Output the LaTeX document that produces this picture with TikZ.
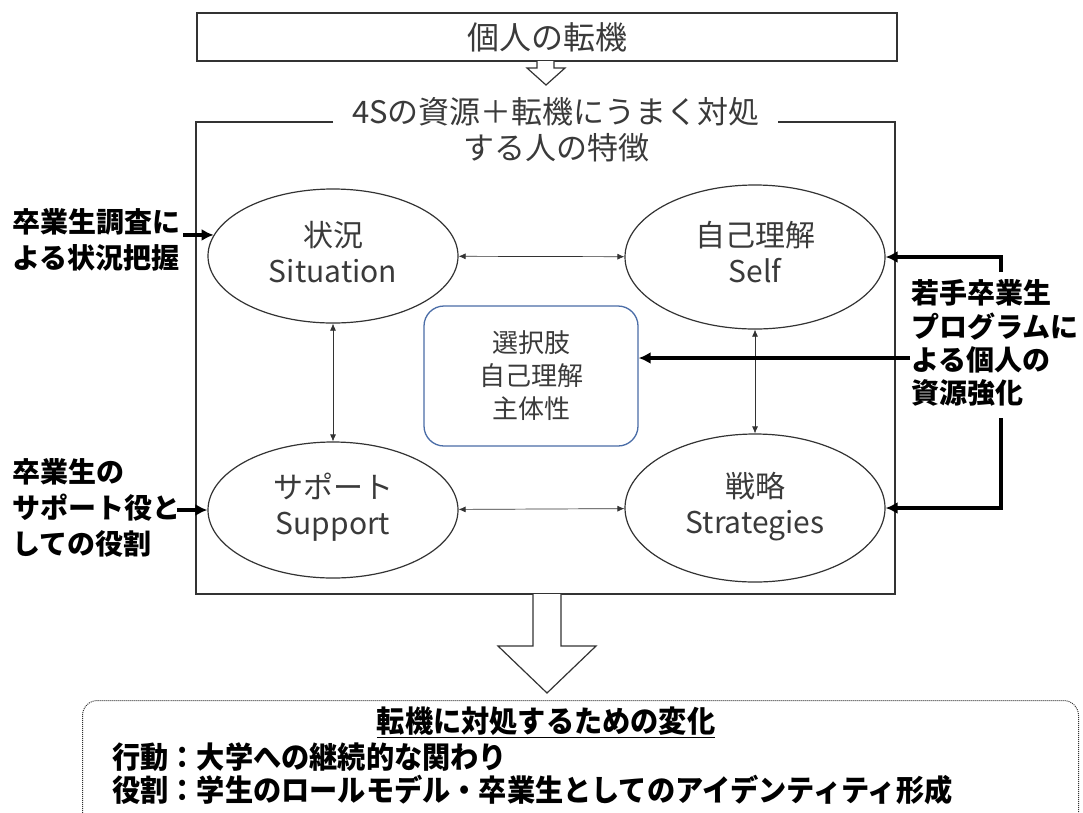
\documentclass[tikz,border=0pt]{standalone}
\usepackage{fontspec}
\usepackage{graphicx}
\setmainfont{Noto Sans CJK JP}
\usetikzlibrary{arrows.meta,shapes.geometric}
\definecolor{lc}{HTML}{333333}
\definecolor{tc}{HTML}{3A3A3A}
\definecolor{bl}{HTML}{4A6DA7}
\begin{document}
\begin{tikzpicture}[x=1pt,y=-1pt,
  ell/.style={ellipse, draw=lc, line width=1.2pt, inner sep=0pt},
  etxt/.style={inner sep=0pt, align=center, text=tc, font=\fontsize{30}{36}\selectfont},
  dbl/.style={draw=lc, line width=0.7pt, {Latex[length=7pt,width=6pt]}-{Latex[length=7pt,width=6pt]}},
  thk/.style={draw=black, line width=3.2pt, -{Latex[length=12pt,width=12pt]}},
  lab/.style={anchor=west, inner sep=0pt, align=left, font=\bfseries\fontsize{28}{36}\selectfont},
  hollow/.style={draw=lc, line width=1.2pt, fill=white, line join=miter},
  ttl/.style={inner sep=0pt, text=tc, font=\fontsize{31}{36}\selectfont},
]
\fill[white] (0,0) rectangle (1083,812);
\clip (0,0) rectangle (1083,812);

% top box
\node[draw=lc, line width=1.2pt, minimum width=700pt, minimum height=48pt, inner sep=0pt, text=tc, font=\fontsize{32}{36}\selectfont] (top) at (547,37) {個人の転機};
\draw[hollow] (537,61) -- (537,68) -- (527,68) -- (546,85) -- (565,68) -- (554,68) -- (554,61);

% frame with title
\draw[draw=lc, line width=1.2pt] (333,122) -- (196,122) -- (196,594) -- (895,594) -- (895,122) -- (778,122);
\node[ttl] (t1) at (556,112) {4Sの資源＋転機にうまく対処};
\node[ttl] (t2) at (556,148) {する人の特徴};

% ellipses
\node[ell, minimum width=250pt, minimum height=134pt] (sit) at (333,256) {};
\node[ell, minimum width=260pt, minimum height=144pt] (self) at (755,257) {};
\node[ell, minimum width=250pt, minimum height=136pt] (sup) at (333,510) {};
\node[ell, minimum width=260pt, minimum height=148pt] (str) at (755,508) {};
\node[etxt] (sitt) at (333,252) {状況\\Situation};
\node[etxt] (selft) at (755,252) {自己理解\\Self};
\node[etxt] (supt) at (333,507) {サポート\\Support};
\node[etxt] (strt) at (755,507) {戦略\\Strategies};

% central box
\node[draw=bl, line width=1.3pt, rounded corners=20pt, minimum width=214pt, minimum height=140pt, inner sep=0pt, align=center, text=tc, font=\fontsize{26}{33}\selectfont] (mid) at (531,376) {選択肢\\自己理解\\主体性};

% double arrows
\draw[dbl] (sit) -- (self);
\draw[dbl] (sup) -- (str);
\draw[dbl] (sit) -- (sup);
\draw[dbl] (self) -- (str);

% left labels
\node[lab] (l1) at (12,240) {卒業生調査に\\よる状況把握};
\node[lab] (l2) at (12,508) {卒業生の\\サポート役と\\しての役割};
\coordinate (a1) at (183,237);
\coordinate (a2) at (177,510);
\draw[thk] (a1 |- sit.170) -- (sit.170);
\draw[thk] (a2) -- (sup.west);

% right label and bracket
\node[lab, font=\bfseries\fontsize{28}{33.3}\selectfont] (r1) at (911,343) {若手卒業生\\プログラムに\\よる個人の\\資源強化};
\coordinate (b1) at (1001,272);
\coordinate (b2) at (1001,418);
\coordinate (m1) at (910,358);
\draw[thk] (b1) |- (self.east);
\draw[thk] (b2) |- (str.east);
\draw[thk] (m1) -- (m1 -| mid.east);

% bottom hollow arrow
\draw[hollow] (533,594) -- (533,646) -- (498,646) -- (547,693) -- (596,646) -- (561,646) -- (561,594);

% result box
\node[draw=lc, line width=1pt, densely dotted, rounded corners=15pt, minimum width=996pt, minimum height=130pt, anchor=north west] (res) at (82,700) {};
\node[inner sep=0pt, font=\bfseries\fontsize{30}{36}\selectfont] (rt) at (546,722) {\scalebox{0.94}[1]{\underline{転機に対処するための変化}}};
\node[inner sep=0pt, anchor=west, font=\bfseries\fontsize{30}{36}\selectfont] (rl1) at (112,757) {\scalebox{0.94}[1]{行動：大学への継続的な関わり}};
\node[inner sep=0pt, anchor=west, font=\bfseries\fontsize{30}{36}\selectfont] (rl2) at (112,790) {\scalebox{0.94}[1]{役割：学生のロールモデル・卒業生としてのアイデンティティ形成}};
\end{tikzpicture}
\end{document}
